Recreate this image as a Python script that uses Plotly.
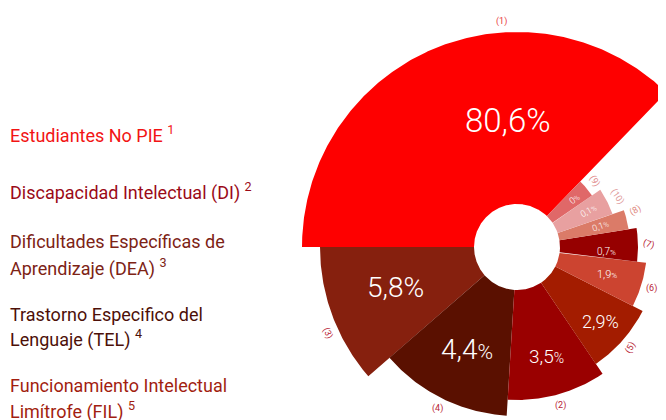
import math
import plotly.graph_objects as go

# ---------------- data ----------------
# slices listed counter-clockwise, starting at the right edge of slice (1)
slice_ids = [1, 3, 4, 2, 5, 6, 7, 8, 10, 9]
pct_text = ["80,6%", "5,8%", "4,4%", "3,5%", "2,9%", "1,9%", "0,7%", "0,1%", "0,1%", "0%"]
angle_share = [134, 41, 45.5, 37.5, 29, 20, 16, 10, 15.5, 11.5]   # degrees of arc per slice
radius_value = [215, 197, 169, 153, 141, 130, 121, 113, 101, 91]  # outer radius per slice
inner_radius = 43

legend_items = [
    ["Estudiantes No PIE <sup>1</sup>"],
    ["Discapacidad Intelectual (DI) <sup>2</sup>"],
    ["Dificultades Específicas de", "Aprendizaje (DEA) <sup>3</sup>"],
    ["Trastorno Especifico del", "Lenguaje (TEL) <sup>4</sup>"],
    ["Funcionamiento Intelectual", "Limítrofe (FIL) <sup>5</sup>"],
]

# ---------------- style ----------------
slice_colors = ["#FE0000", "#86200E", "#5A1000", "#9A0000", "#A31C00",
                "#CC4430", "#960000", "#DB7B68", "#E8A0A0", "#E06868"]
outer_label_colors = ["#E83A3A", "#B82434", "#B82434", "#B82434", "#B82434",
                      "#B82434", "#B82434", "#E08A80", "#E09A9A", "#E08A8A"]
inner_font_sizes = [33, 28, 28, 19, 18, 11, 10, 9, 9, 9]
small_pct = [False, False, True, True, False, True, True, True, True, True]
inner_angles = [0, 0, 0, 0, 0, 0, 0, -20, -28, -38]
outer_angles = [0, 65, 0, 0, -60, 0, 15, -30, 55, 60]
legend_colors = ["#F21414", "#9B0A17", "#7D2315", "#4D1008", "#A21E10"]
legend_baselines = [[142], [199], [249, 275], [322, 346], [393, 418]]
label_angle_shift = {1: -19, 3: -2, 7: -4}
label_radius_shift = {1: -10, 2: 8, 5: 12}
outer_angle_shift = {1: -19, 3: 4, 8: 3}
start_angle = 46

OFF = 8                       # page body margin
W, H = 666 - OFF, 420 - OFF
cx, cy = 517 - OFF, 247 - OFF  # pie centre (pixels from top-left of figure)

# ---------------- geometry from data ----------------
def polar_xy(r, deg):
    a = math.radians(deg)
    return r * math.cos(a), r * math.sin(a)

fig = go.Figure()
acc = start_angle
theta_mid = []
for sid, w, rad, col in zip(slice_ids, angle_share, radius_value, slice_colors):
    a0, a1 = acc, acc + w
    n = max(6, int(w * 2))
    outer = [polar_xy(rad, a0 + (a1 - a0) * i / n) for i in range(n + 1)]
    inner = [polar_xy(inner_radius, a1 - (a1 - a0) * i / n) for i in range(n + 1)]
    pts = outer + inner + [outer[0]]
    fig.add_trace(go.Scatter(
        x=[p[0] for p in pts], y=[p[1] for p in pts], mode="lines",
        fill="toself", fillcolor=col, line=dict(width=0, color=col),
        hoverinfo="skip", showlegend=False,
    ))
    theta_mid.append((a0 + a1) / 2)
    acc = a1

for i, sid in enumerate(slice_ids):
    t_in = theta_mid[i] + label_angle_shift.get(sid, 0)
    r_in = (inner_radius + radius_value[i]) / 2 + 8 + label_radius_shift.get(sid, 0)
    x, y = polar_xy(r_in, t_in)
    txt = pct_text[i]
    if small_pct[i]:
        txt = txt[:-1] + f"<span style='font-size:{round(inner_font_sizes[i] * 0.75)}px'>%</span>"
    fig.add_annotation(
        x=x, y=y, xref="x", yref="y", text=txt, showarrow=False,
        textangle=inner_angles[i], xanchor="center", yanchor="middle",
        font=dict(family="Roboto", size=inner_font_sizes[i], color="white", weight=300),
    )
    t_out = theta_mid[i] + outer_angle_shift.get(sid, 0)
    xo, yo = polar_xy(radius_value[i] + 11, t_out)
    fig.add_annotation(
        x=xo, y=yo, xref="x", yref="y", text=f"({sid})", showarrow=False,
        textangle=outer_angles[i], xanchor="center", yanchor="middle",
        font=dict(family="Roboto", size=9, color=outer_label_colors[i]),
    )

fig.update_layout(
    width=W, height=H, margin=dict(l=0, r=0, t=0, b=0),
    paper_bgcolor="white", plot_bgcolor="white",
    xaxis=dict(range=[-cx, W - cx], visible=False, domain=[0, 1], fixedrange=True),
    yaxis=dict(range=[-(H - cy), cy], visible=False, domain=[0, 1], fixedrange=True),
)

font_size = 18
for lines, bases, col in zip(legend_items, legend_baselines, legend_colors):
    for txt, b in zip(lines, bases):
        fig.add_annotation(
            x=0, y=(H - (b - OFF) + 0.43 * font_size) / H,
            xref="paper", yref="paper",
            xanchor="left", yanchor="middle", showarrow=False, text=txt,
            font=dict(family="Roboto", size=font_size, color=col),
        )

fig.write_html("out.html")
